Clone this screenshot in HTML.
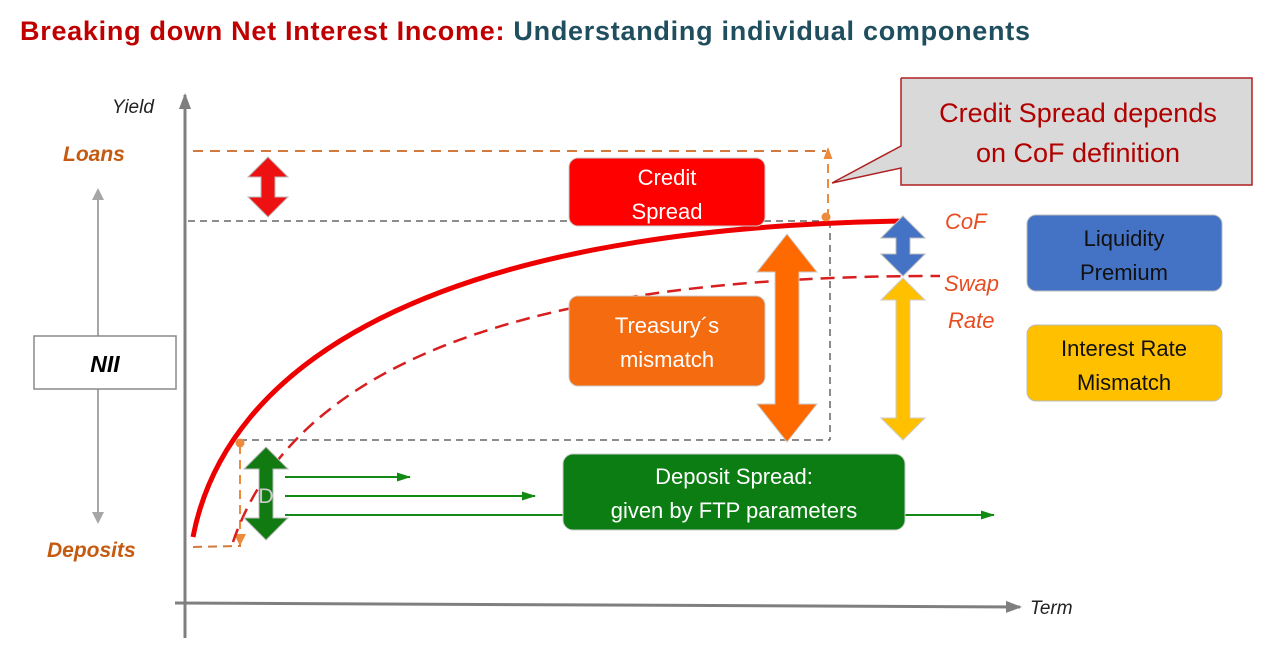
<!DOCTYPE html>
<html><head><meta charset="utf-8"><style>
body{margin:0;background:#fff;width:1280px;height:641px;overflow:hidden}
text{font-family:"Liberation Sans",sans-serif}
</style></head><body>
<svg width="1280" height="641" viewBox="0 0 1280 641">
<defs>
<marker id="ga" markerUnits="userSpaceOnUse" markerWidth="16" markerHeight="16" refX="14" refY="8" orient="auto"><path d="M0,2 L16,8 L0,14 z" fill="#7f7f7f"/></marker>
<marker id="gr" markerUnits="userSpaceOnUse" markerWidth="14" markerHeight="12" refX="13" refY="6" orient="auto"><path d="M0,1.5 L14,6 L0,10.5 z" fill="#138a13"/></marker>
<marker id="or" markerUnits="userSpaceOnUse" markerWidth="12" markerHeight="12" refX="11" refY="6" orient="auto"><path d="M0,1.5 L12,6 L0,10.5 z" fill="#ed8b3c"/></marker>
</defs>
<text x="20" y="40" font-size="27" font-weight="bold" textLength="1010"><tspan fill="#c00000">Breaking down Net Interest Income:</tspan><tspan fill="#1f4e5f"> Understanding individual components</tspan></text>

<line x1="185" y1="638" x2="185" y2="95" stroke="#7f7f7f" stroke-width="3" marker-end="url(#ga)"/>
<line x1="175" y1="603" x2="1020" y2="607" stroke="#7f7f7f" stroke-width="3" marker-end="url(#ga)"/>
<text x="112" y="113" font-size="19" font-style="italic" fill="#222">Yield</text>
<text x="1030" y="614" font-size="19" font-style="italic" fill="#222">Term</text>
<text x="63" y="161" font-size="21" font-style="italic" font-weight="bold" fill="#c55a11">Loans</text>
<text x="47" y="557" font-size="21" font-style="italic" font-weight="bold" fill="#c55a11">Deposits</text>
<g fill="#a6a6a6" stroke="#a6a6a6">
<line x1="98" y1="198" x2="98" y2="514" stroke-width="2"/>
<path d="M92,200 L98,188 L104,200 z M92,512 L98,524 L104,512 z" stroke="none"/></g>
<rect x="34" y="336" width="142" height="53" fill="#fff" stroke="#8a8a8a" stroke-width="1.5"/>
<text x="105" y="372" font-size="23" font-weight="bold" font-style="italic" text-anchor="middle">NII</text>

<line x1="193" y1="151" x2="826" y2="151" stroke="#d27a3a" stroke-width="2" stroke-dasharray="10,7"/>
<line x1="828" y1="218" x2="828" y2="148" stroke="#ed8b3c" stroke-width="2" stroke-dasharray="9,6" marker-end="url(#or)"/>
<line x1="188" y1="221" x2="826" y2="221" stroke="#666" stroke-width="1.5" stroke-dasharray="7,5"/>
<line x1="830" y1="221" x2="830" y2="440" stroke="#666" stroke-width="1.5" stroke-dasharray="7,5"/>
<line x1="240" y1="440" x2="830" y2="440" stroke="#666" stroke-width="1.5" stroke-dasharray="7,5"/>
<path d="M193,547 L240,546 L240,535" fill="none" stroke="#d27a3a" stroke-width="2" stroke-dasharray="9,6"/>
<line x1="240" y1="445" x2="240" y2="536" stroke="#ed8b3c" stroke-width="2" stroke-dasharray="9,6"/>
<path d="M234,534 L240,546 L246,534 z" fill="#ed8b3c"/>

<path d="M193,537 C225,370 420,228 905,221" fill="none" stroke="#ee0000" stroke-width="5"/>
<path d="M233,542 C285,390 470,275 940,276" fill="none" stroke="#d81e1e" stroke-width="2.5" stroke-dasharray="14,8"/>
<circle cx="826" cy="217" r="4.5" fill="#ed8b3c"/>
<circle cx="240" cy="443" r="4.5" fill="#ed8b3c"/>

<path d="M268,157 L288,177 L275,177 L275,197 L288,197 L268,217 L248,197 L261,197 L261,177 L248,177 z" fill="#ee1111" stroke="#bbb"/>
<path d="M787,234 L817,272 L799,272 L799,404 L817,404 L787,442 L757,404 L775,404 L775,272 L757,272 z" fill="#ff6a00" stroke="#ccc"/>
<path d="M903,216 L925,238 L910,238 L910,254 L925,254 L903,276 L881,254 L896,254 L896,238 L881,238 z" fill="#4472c4" stroke="#bbb"/>
<path d="M903,278 L925,300 L910,300 L910,418 L925,418 L903,440 L881,418 L896,418 L896,300 L881,300 z" fill="#ffc000" stroke="#ccc"/>
<path d="M266,447 L288,469 L273,469 L273,518 L288,518 L266,540 L244,518 L259,518 L259,469 L244,469 z" fill="#117a11" stroke="#bbb"/>
<text x="266" y="503" font-size="21" text-anchor="middle" fill="#ccc">D</text>

<line x1="285" y1="477" x2="410" y2="477" stroke="#138a13" stroke-width="2" marker-end="url(#gr)"/>
<line x1="285" y1="496" x2="535" y2="496" stroke="#138a13" stroke-width="2" marker-end="url(#gr)"/>
<line x1="285" y1="515" x2="994" y2="515" stroke="#138a13" stroke-width="2" marker-end="url(#gr)"/>

<rect x="569" y="158" width="196" height="68" rx="9" fill="#ff0000" stroke="#ccc"/>
<text x="667" y="185" font-size="22" fill="#fff" text-anchor="middle">Credit</text>
<text x="667" y="219" font-size="22" fill="#fff" text-anchor="middle">Spread</text>
<rect x="569" y="296" width="196" height="90" rx="9" fill="#f46b10" stroke="#ccc"/>
<text x="667" y="333" font-size="22" fill="#fff" text-anchor="middle">Treasury´s</text>
<text x="667" y="367" font-size="22" fill="#fff" text-anchor="middle">mismatch</text>
<rect x="563" y="454" width="342" height="76" rx="10" fill="#0b7d12" stroke="#ccc"/>
<text x="734" y="484" font-size="22" fill="#fff" text-anchor="middle">Deposit Spread:</text>
<text x="734" y="518" font-size="22" fill="#fff" text-anchor="middle">given by FTP parameters</text>

<path d="M901,78 L1252,78 L1252,185 L901,185 L901,168 L832,183 L901,146 L901,78" fill="#d9d9d9" stroke="#b02020" stroke-width="1.5"/>
<text x="1078" y="122" font-size="27" fill="#b00000" text-anchor="middle">Credit Spread depends</text>
<text x="1078" y="162" font-size="27" fill="#b00000" text-anchor="middle">on CoF definition</text>

<text x="945" y="229" font-size="22" font-style="italic" fill="#e84c22">CoF</text>
<text x="944" y="291" font-size="22" font-style="italic" fill="#e84c22">Swap</text>
<text x="948" y="328" font-size="22" font-style="italic" fill="#e84c22">Rate</text>

<rect x="1027" y="215" width="195" height="76" rx="9" fill="#4472c4" stroke="#bbb"/>
<text x="1124" y="246" font-size="22" fill="#111" text-anchor="middle">Liquidity</text>
<text x="1124" y="280" font-size="22" fill="#111" text-anchor="middle">Premium</text>
<rect x="1027" y="325" width="195" height="76" rx="9" fill="#ffc000" stroke="#bbb"/>
<text x="1124" y="356" font-size="22" fill="#111" text-anchor="middle">Interest Rate</text>
<text x="1124" y="390" font-size="22" fill="#111" text-anchor="middle">Mismatch</text>
</svg>
</body></html>
